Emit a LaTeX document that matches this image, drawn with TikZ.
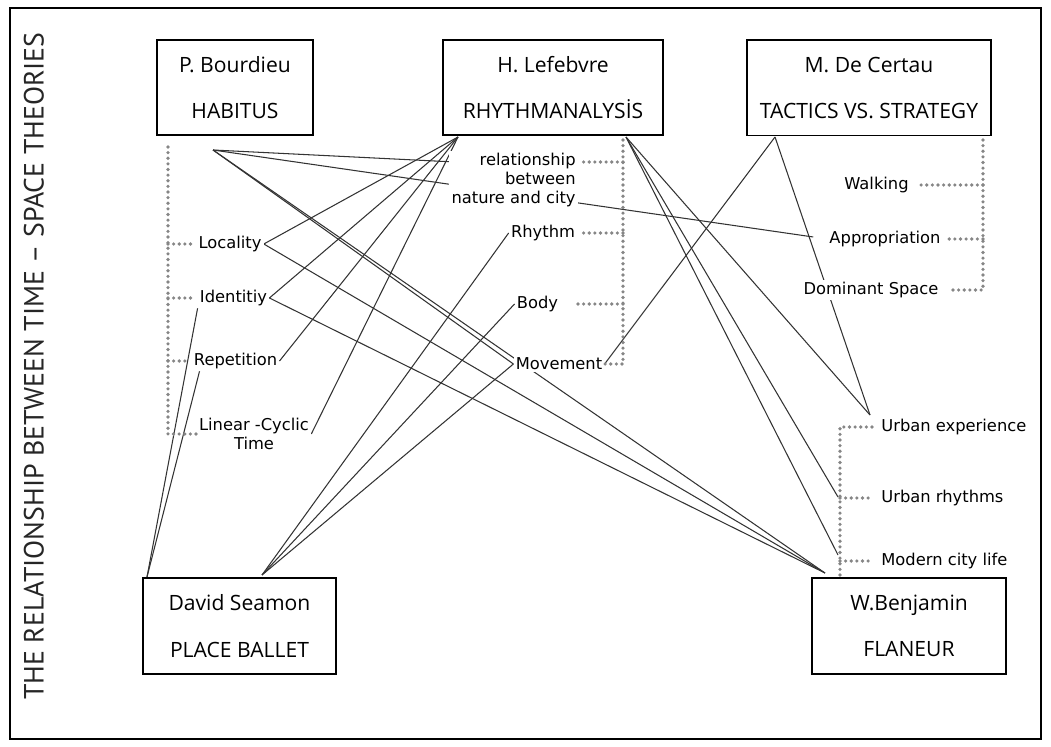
\documentclass[tikz,border=0pt]{standalone}
\usepackage{fontspec}
\setmainfont{DejaVu Sans}
\newfontfamily\boxfont{Open Sans}
\newfontfamily\titlefont{PT Sans}
\usetikzlibrary{backgrounds}

\begin{document}
\begin{tikzpicture}[x=0.025cm, y=-0.025cm,
    theorist/.style={draw, line width=1.4pt, align=center, minimum height=2.375cm,
      font=\boxfont\fontsize{15}{17}\selectfont},
    concept/.style={fill=white, inner sep=1.5pt, font=\fontsize{11.6}{13.2}\selectfont},
    link/.style={black!80, line width=0.75pt},
    bracket/.style={gray!95, line width=2.6pt, line cap=round, dash pattern=on 0pt off 4pt},
    stub/.style={bracket, shorten >=4pt}]
    \useasboundingbox (0,0) rectangle (1051,747);
    \draw[line width=1.1pt] (10,8) rectangle (1041,739);
    \node[rotate=90, text=black!85, font=\titlefont\fontsize{19.8}{21}\selectfont] (title) at (34,366) {THE RELATIONSHIP BETWEEN TIME – SPACE THEORIES};

    % theorists
    \node[theorist, minimum width=3.9cm] (bourdieu) at (235,87.5) {P. Bourdieu\\[16pt]HABITUS};
    \node[theorist, minimum width=5.5cm] (lefebvre) at (553,87.5) {H. Lefebvre\\[16pt]RHYTHMANALYSİS};
    \node[theorist, minimum width=6.1cm] (certau) at (869,88) {M. De Certau\\[16pt]TACTICS VS. STRATEGY};
    \node[theorist, minimum width=4.825cm, minimum height=2.4cm] (seamon) at (239.5,626) {David Seamon\\[16pt]PLACE BALLET};
    \node[theorist, minimum width=4.85cm, minimum height=2.4cm] (benjamin) at (909,626) {W.Benjamin\\[16pt]FLANEUR};

    % concepts
    \node[concept] (loc) at (230,244) {Locality};
    \node[concept] (ident) at (233.5,298) {Identitiy};
    \node[concept] (rep) at (235.5,361) {Repetition};
    \node[concept, align=center] (lin) at (254,434) {Linear -Cyclic\\Time};
    \node[concept, align=right, anchor=east] (rel) at (578,180) {relationship\\between\\nature and city};
    \node[concept] (rhythm) at (543,233) {Rhythm};
    \node[concept] (body) at (537.5,304) {Body};
    \node[concept] (move) at (559,364) {Movement};
    \node[concept] (walk) at (876.5,185) {Walking};
    \node[concept] (appro) at (885,239) {Appropriation};
    \node[concept] (dom) at (871,290) {Dominant Space};
    \node[concept, anchor=west] (uexp) at (879,427) {Urban experience};
    \node[concept, anchor=west] (urhy) at (879,498) {Urban rhythms};
    \node[concept, anchor=west] (mcl) at (879,561) {Modern city life};

    % connector ends
    \coordinate (bourdieu-out) at (213,150);
    \coordinate (lef-l) at (458,137);
    \coordinate (lef-r) at (626,137);
    \coordinate (certau-out) at (775,137);
    \coordinate (seamon-l) at (147,577);
    \coordinate (seamon-r) at (262,575);
    \coordinate (benjamin-in) at (825,573);
    \coordinate (rel-in) at (475,163);
    \coordinate (rel-out) at (578,162);
    \coordinate (uexp-in) at (870,415);
    \coordinate (urhy-in) at (838,497);
    \coordinate (mcl-in) at (838,555);

    % dotted brackets
    \coordinate (bbr) at (168,147);
    \draw[bracket] (bbr) |- (lin.west);
    \foreach \c in {loc, ident, rep}
        \draw[stub] (\c.west -| bbr) -- (\c.west);
    \coordinate (lbr) at (623,140);
    \draw[bracket] (lbr) |- (move.east);
    \draw[stub] (rel-out -| lbr) -- (rel-out);
    \draw[stub] (rhythm.east -| lbr) -- (rhythm.east);
    \draw[stub, shorten >=11pt] (body.east -| lbr) -- (body.east);
    \coordinate (dbr) at (983,140);
    \draw[bracket, shorten >=8pt] (dbr) |- (dom.east);
    \draw[stub, shorten >=7pt] (walk.east -| dbr) -- (walk.east);
    \draw[stub, shorten >=3pt] (appro.east -| dbr) -- (appro.east);
    \coordinate (nbr) at (840,575);
    \draw[stub] (nbr) |- (uexp.west);
    \draw[stub] (urhy.west -| nbr) -- (urhy.west);
    \draw[stub] (mcl.west -| nbr) -- (mcl.west);

    % links
    \begin{scope}[on background layer]
        \draw[link] (bourdieu-out) -- (rel-in);
        \draw[link, shorten >=10pt] (bourdieu-out) -- (appro.west);
        \draw[link] (bourdieu-out) -- (move.west);
        \draw[link] (bourdieu-out) -- (benjamin-in);
        \foreach \c in {loc, ident, rep, lin}
            \draw[link] (lef-l) -- (\c.east);
        \foreach \c in {uexp-in, urhy-in, mcl-in}
            \draw[link] (lef-r) -- (\c);
        \draw[link] (certau-out) -- (move.east);
        \draw[link] (certau-out) -- (uexp-in);
        \draw[link] (loc.east) -- (benjamin-in);
        \draw[link] (ident.east) -- (benjamin-in);
        \draw[link] (ident.south west) -- (seamon-l);
        \draw[link] ([xshift=0.2cm]rep.south west) -- (seamon-l);
        \foreach \c in {rhythm, body, move}
            \draw[link] (\c.west) -- (seamon-r);
    \end{scope}
\end{tikzpicture}
\end{document}
